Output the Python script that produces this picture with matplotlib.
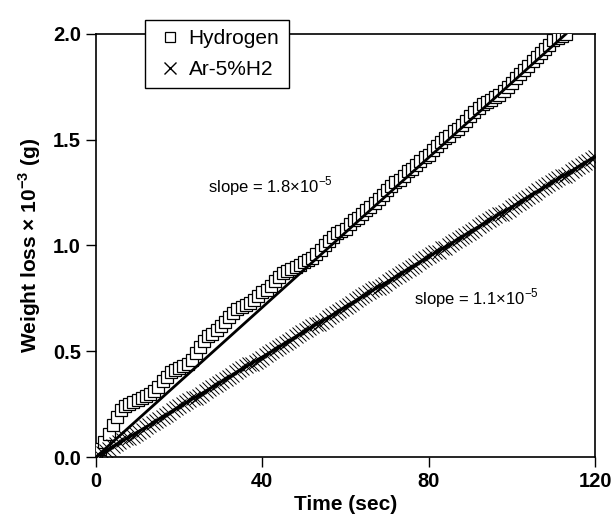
import matplotlib.pyplot as plt
import numpy as np
from matplotlib.lines import Line2D

plt.rcParams['font.family'] = ['Liberation Sans', 'DejaVu Sans']
plt.rcParams['mathtext.fontset'] = 'custom'
plt.rcParams['mathtext.rm'] = 'Liberation Sans'
plt.rcParams['mathtext.bf'] = 'Liberation Sans:bold'

# Hydrogen: one reading per second, 0..113 s (weight loss x 1e-3 g)
h_time = np.arange(0, 114, 1)
h_loss = [
    0.00, 0.04, 0.07, 0.11, 0.15, 0.19, 0.22, 0.24, 0.25, 0.26,
    0.27, 0.28, 0.29, 0.30, 0.31, 0.33, 0.36, 0.38, 0.40, 0.41,
    0.42, 0.43, 0.44, 0.46, 0.49, 0.52, 0.55, 0.57, 0.58, 0.60,
    0.62, 0.64, 0.66, 0.68, 0.70, 0.71, 0.72, 0.73, 0.74, 0.76,
    0.78, 0.79, 0.81, 0.83, 0.85, 0.87, 0.88, 0.89, 0.90, 0.91,
    0.92, 0.93, 0.94, 0.96, 0.98, 1.00, 1.02, 1.04, 1.06, 1.07,
    1.08, 1.10, 1.12, 1.13, 1.15, 1.17, 1.18, 1.20, 1.22, 1.24,
    1.26, 1.28, 1.30, 1.31, 1.33, 1.35, 1.36, 1.38, 1.40, 1.42,
    1.43, 1.45, 1.47, 1.49, 1.51, 1.52, 1.54, 1.55, 1.57, 1.59,
    1.61, 1.63, 1.65, 1.67, 1.68, 1.69, 1.70, 1.71, 1.73, 1.75,
    1.77, 1.79, 1.81, 1.83, 1.85, 1.87, 1.89, 1.91, 1.93, 1.95,
    1.97, 1.98, 1.99, 2.00,
]

# Ar-5%H2: one reading every 0.8 s, 0..120 s
ar_time = np.arange(0, 120.01, 0.8)
ar_loss = [
    0.00, 0.01, 0.02, 0.03, 0.04, 0.05, 0.06, 0.07, 0.08, 0.09,
    0.09, 0.10, 0.11, 0.12, 0.13, 0.14, 0.15, 0.16, 0.17, 0.18,
    0.19, 0.20, 0.21, 0.22, 0.23, 0.24, 0.25, 0.26, 0.27, 0.28,
    0.28, 0.29, 0.30, 0.31, 0.32, 0.33, 0.34, 0.35, 0.36, 0.37,
    0.38, 0.39, 0.40, 0.41, 0.42, 0.43, 0.44, 0.44, 0.45, 0.46,
    0.47, 0.48, 0.49, 0.50, 0.51, 0.52, 0.53, 0.54, 0.55, 0.56,
    0.57, 0.58, 0.59, 0.60, 0.61, 0.62, 0.63, 0.63, 0.64, 0.65,
    0.66, 0.67, 0.68, 0.69, 0.70, 0.71, 0.72, 0.73, 0.74, 0.75,
    0.76, 0.77, 0.78, 0.79, 0.80, 0.80, 0.81, 0.82, 0.83, 0.84,
    0.85, 0.86, 0.87, 0.88, 0.89, 0.90, 0.91, 0.92, 0.93, 0.94,
    0.95, 0.96, 0.97, 0.97, 0.99, 0.99, 1.00, 1.01, 1.02, 1.03,
    1.04, 1.05, 1.06, 1.07, 1.08, 1.09, 1.10, 1.11, 1.12, 1.13,
    1.14, 1.15, 1.15, 1.16, 1.17, 1.18, 1.19, 1.20, 1.21, 1.22,
    1.23, 1.24, 1.25, 1.26, 1.27, 1.28, 1.29, 1.30, 1.31, 1.32,
    1.33, 1.33, 1.34, 1.35, 1.36, 1.37, 1.38, 1.39, 1.40, 1.41,
    1.42,
]

# linear fits
h_fit_t = [0, 113]
h_fit_w = [0.0, 2.0]
ar_fit_t = [0, 120]
ar_fit_w = [0.0, 1.42]

fig = plt.figure(figsize=(6.14, 5.21), dpi=100)
ax = fig.add_axes([0.1564, 0.1228, 0.8127, 0.812])

ax.plot(h_time, h_loss, ls='none', marker='s', ms=8.5, mfc='white',
        mec='black', mew=0.9, zorder=3)
ax.plot(ar_time, ar_loss, ls='none', marker='x', ms=10, color='black',
        mew=0.7, zorder=3)
ax.plot(h_fit_t, h_fit_w, color='black', lw=2, zorder=4)
ax.plot(ar_fit_t, ar_fit_w, color='black', lw=2, zorder=4)

ax.set_xlim(0, 120)
ax.set_ylim(0, 2.0)
ax.set_xticks([0, 40, 80, 120])
ax.set_yticks([0, 0.5, 1.0, 1.5, 2.0])
ax.set_yticklabels(['0.0', '0.5', '1.0', '1.5', '2.0'])
ax.tick_params(direction='out', length=7, width=1, labelsize=14.5, pad=4)
for lab in ax.get_xticklabels() + ax.get_yticklabels():
    lab.set_fontweight('bold')
for sp in ax.spines.values():
    sp.set_linewidth(1.2)

ax.set_xlabel('Time (sec)', fontsize=15, fontweight='bold', labelpad=3)
ax.set_ylabel(r'Weight loss $\mathbf{\times}$ 10$^{\mathbf{-3}}$ (g)',
              fontsize=15, fontweight='bold', labelpad=7)

ax.text(42, 1.28, r'slope = 1.8$\times$10$^{-5}$', fontsize=12,
        ha='center', va='center')
ax.text(91.5, 0.75, r'slope = 1.1$\times$10$^{-5}$', fontsize=12,
        ha='center', va='center')

handles = [
    Line2D([], [], ls='none', marker='s', ms=7.5, mfc='white', mec='black',
           mew=0.9, label='Hydrogen'),
    Line2D([], [], ls='none', marker='x', ms=9, color='black', mew=1,
           label='Ar-5%H2'),
]
leg = ax.legend(handles=handles, loc='upper left',
                bbox_to_anchor=(0.236, 0.9616), bbox_transform=fig.transFigure,
                borderaxespad=0, fancybox=False, framealpha=1,
                edgecolor='black', fontsize=15, handlelength=1.5,
                handletextpad=0.15, borderpad=0.45, labelspacing=0.55)
leg.get_frame().set_linewidth(1)
leg.set_zorder(10)

fig.savefig('out.png', dpi=100)
